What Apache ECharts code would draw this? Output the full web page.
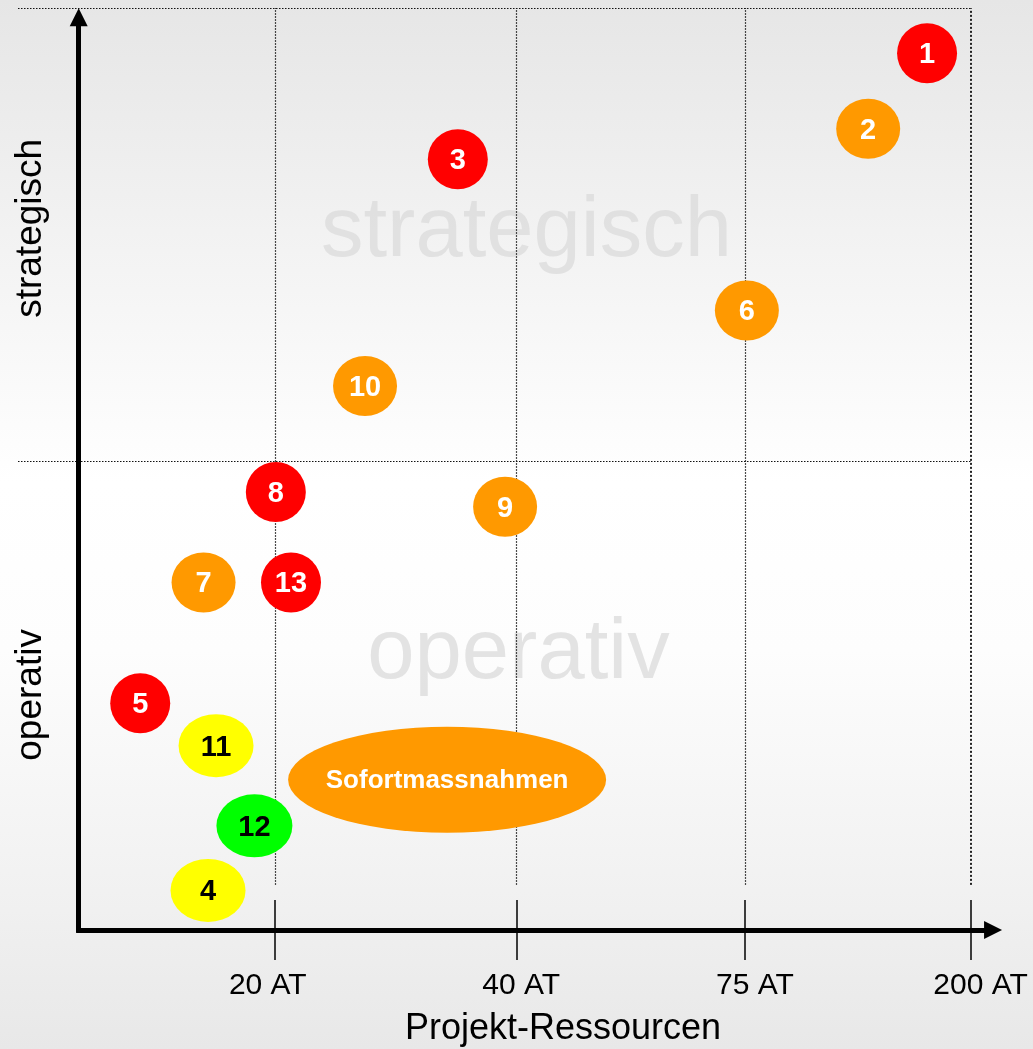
<!DOCTYPE html>
<html>
<head>
<meta charset="utf-8">
<script src="https://cdn.jsdelivr.net/npm/echarts@6/dist/echarts.min.js"></script>
<style>html,body{margin:0;padding:0;background:#fff;}#c{width:1033px;height:1049px;}</style>
</head>
<body>
<div id="c"></div>
<script>
// ---- data ----
const projectIds = ['1','2','3','4','5','6','7','8','9','10','11','12','13'];
const projectX = [95.1, 88.5, 42.5, 14.5, 6.9, 74.9, 14.0, 22.1, 47.8, 32.1, 15.4, 19.7, 23.8];
const projectY = [95.1, 86.9, 83.6, 4.3, 24.6, 67.2, 37.7, 47.5, 45.9, 59.0, 20.0, 11.3, 37.7];
const projectStatus = ['red','orange','red','yellow','red','orange','orange','red','orange','orange','yellow','green','red'];
const sofortLabel = 'Sofortmassnahmen';
const sofortX = 41.3;
const sofortY = 16.3;
const xTickValues = [22, 49.1, 74.7, 100];
const xTickLabelValues = [21.2, 49.6, 75.8, 101.1];
const xTickLabels = ['20 AT', '40 AT', '75 AT', '200 AT'];
const quadrantDividerY = 50.8;
const yAxisLabelValues = [76.1, 25.5];
const yAxisLabels = ['strategisch', 'operativ'];
const watermarkLabels = ['strategisch', 'operativ'];
const watermarkX = [50.2, 49.3];
const watermarkY = [75.6, 29.9];

// ---- axis extents ----
const X_MIN = -6.8, X_MAX = 103.5, Y_MIN = -3.25, Y_MAX = 100;
const X_ARROW_END = 102.5, Y_ARROW_END = 99.0, GRID_LINE_BOTTOM = 4.9;

const FONT = "'Liberation Sans', Arial, sans-serif";
const statusStyle = {
  red:    { color: '#ff0000', text: '#ffffff', size: [60, 60] },
  orange: { color: '#ff9900', text: '#ffffff', size: [64, 60] },
  yellow: { color: '#ffff00', text: '#000000', size: [75, 63] },
  green:  { color: '#00ff00', text: '#000000', size: [76, 63] }
};

function lookup(values, labels, v) {
  for (let i = 0; i < values.length; i++) if (Math.abs(values[i] - v) < 1e-6) return labels[i];
  return '';
}

const bubbleData = projectIds.map((id, i) => {
  const s = statusStyle[projectStatus[i]];
  return {
    name: id,
    value: [projectX[i], projectY[i]],
    symbolSize: s.size,
    itemStyle: { color: s.color, opacity: 1 },
    label: { color: s.text }
  };
});
bubbleData.push({
  name: sofortLabel,
  value: [sofortX, sofortY],
  symbolSize: [318, 106],
  itemStyle: { color: '#ff9900', opacity: 1 },
  label: { color: '#ffffff', fontSize: 26, offset: [0, 1] }
});

const dotted = { color: '#111', width: 1.2, type: [1.5, 1.5] };
const frameLines = [];
// top & middle horizontal dotted lines
[Y_MAX, quadrantDividerY].forEach(y => {
  frameLines.push([{ coord: [X_MIN, y], lineStyle: dotted }, { coord: [100, y] }]);
});
// vertical dotted lines
xTickValues.forEach((x, i) => {
  const st = i === xTickValues.length - 1 ? { color: '#222', width: 2, type: [2, 2] } : dotted;
  frameLines.push([{ coord: [x, GRID_LINE_BOTTOM], lineStyle: st }, { coord: [x, Y_MAX] }]);
});
// tick marks crossing the x axis
xTickValues.forEach(x => {
  frameLines.push([{ coord: [x, Y_MIN], lineStyle: { color: '#000', width: 1.5, type: 'solid' } }, { coord: [x, -Y_MIN] }]);
});
// axes with arrows
frameLines.push([
  { coord: [0, 0], symbol: 'none', lineStyle: { color: '#000', width: 5, type: 'solid', cap: 'square' } },
  { coord: [X_ARROW_END, 0], symbol: 'triangle', symbolSize: [18, 18] }
]);
frameLines.push([
  { coord: [0, 0], symbol: 'none', lineStyle: { color: '#000', width: 5, type: 'solid', cap: 'square' } },
  { coord: [0, Y_ARROW_END], symbol: 'triangle', symbolSize: [18, 18] }
]);

const chart = echarts.init(document.getElementById('c'), null, { renderer: 'canvas' });
chart.setOption({
  animation: false,
  backgroundColor: {
    type: 'linear', x: 0, y: 0, x2: 0, y2: 1,
    colorStops: [
      { offset: 0, color: '#e6e6e6' },
      { offset: 0.46, color: '#ffffff' },
      { offset: 0.62, color: '#fdfdfd' },
      { offset: 0.85, color: '#f1f1f1' },
      { offset: 1, color: '#e8e8e8' }
    ]
  },
  textStyle: { fontFamily: FONT },
  title: {
    text: 'Projekt-Ressourcen',
    left: 563, top: 1011, textAlign: 'center', padding: 0,
    textStyle: { fontSize: 36, fontWeight: 'normal', color: '#000', fontFamily: FONT }
  },
  grid: { left: 18, right: 31, top: 8, bottom: 89, containLabel: false },
  xAxis: {
    type: 'value', min: X_MIN, max: X_MAX, position: 'bottom',
    axisLine: { show: false, onZero: false },
    axisTick: { show: false },
    splitLine: { show: false },
    axisLabel: {
      customValues: xTickLabelValues,
      formatter: v => lookup(xTickLabelValues, xTickLabels, v),
      margin: 11, fontSize: 30, color: '#000', fontFamily: FONT,
      showMinLabel: true, showMaxLabel: true, hideOverlap: false
    }
  },
  yAxis: {
    type: 'value', min: Y_MIN, max: Y_MAX, position: 'left', offset: -61,
    axisLine: { show: false, onZero: false },
    axisTick: { show: false },
    splitLine: { show: false },
    axisLabel: {
      customValues: yAxisLabelValues,
      formatter: v => lookup(yAxisLabelValues, yAxisLabels, v),
      rotate: 90, margin: 30, fontSize: 37, color: '#000', fontFamily: FONT
    }
  },
  series: [
    {
      type: 'scatter', name: 'watermark', z: 1, silent: true,
      symbolSize: 1, itemStyle: { color: 'rgba(0,0,0,0)' },
      data: watermarkLabels.map((t, i) => ({ name: t, value: [watermarkX[i], watermarkY[i]] })),
      label: { show: true, position: 'inside', formatter: '{b}', fontSize: 85, color: '#dcdcdc', fontFamily: FONT }
    },
    {
      type: 'line', name: 'frame', data: [], silent: true, z: 3,
      markLine: {
        silent: true, z: 3, symbol: 'none', animation: false,
        label: { show: false },
        emphasis: { disabled: true },
        data: frameLines
      }
    },
    {
      type: 'scatter', name: 'projects', z: 10, silent: true,
      data: bubbleData,
      itemStyle: { opacity: 1 },
      label: {
        show: true, position: 'inside', formatter: '{b}', offset: [0, 2],
        fontSize: 29, fontWeight: 'bold', fontFamily: FONT
      }
    }
  ]
});
</script>
</body>
</html>
